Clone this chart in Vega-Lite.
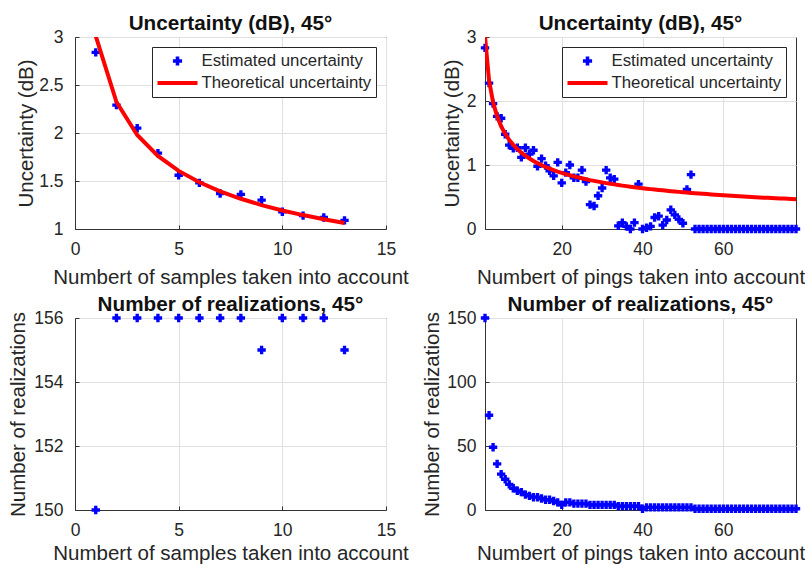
{
  "$schema": "https://vega.github.io/schema/vega-lite/v6.json",
  "background": "white",
  "padding": {"left": 8, "top": 12, "right": 5, "bottom": 0},
  "bounds": "flush",
  "columns": 2,
  "spacing": {"row": 89, "column": 99},
  "datasets": {
    "tl": [
      {"n": 1, "est": 2.84, "theo": 3.010},
      {"n": 2, "est": 2.29, "theo": 2.323},
      {"n": 3, "est": 2.05, "theo": 1.979},
      {"n": 4, "est": 1.79, "theo": 1.761},
      {"n": 5, "est": 1.56, "theo": 1.605},
      {"n": 6, "est": 1.48, "theo": 1.487},
      {"n": 7, "est": 1.37, "theo": 1.392},
      {"n": 8, "est": 1.36, "theo": 1.315},
      {"n": 9, "est": 1.30, "theo": 1.249},
      {"n": 10, "est": 1.18, "theo": 1.193},
      {"n": 11, "est": 1.14, "theo": 1.145},
      {"n": 12, "est": 1.12, "theo": 1.102},
      {"n": 13, "est": 1.09, "theo": 1.063}
    ],
    "tr": [
      {"n": 1, "est": 2.83, "theo": 3.010},
      {"n": 2, "est": 2.28, "theo": 2.323},
      {"n": 3, "est": 1.96, "theo": 1.979},
      {"n": 4, "est": 1.76, "theo": 1.761},
      {"n": 5, "est": 1.73, "theo": 1.605},
      {"n": 6, "est": 1.48, "theo": 1.487},
      {"n": 7, "est": 1.31, "theo": 1.392},
      {"n": 8, "est": 1.26, "theo": 1.315},
      {"n": 9, "est": 1.27, "theo": 1.249},
      {"n": 10, "est": 1.12, "theo": 1.193},
      {"n": 11, "est": 1.27, "theo": 1.145},
      {"n": 12, "est": 1.17, "theo": 1.102},
      {"n": 13, "est": 1.23, "theo": 1.063},
      {"n": 14, "est": 0.98, "theo": 1.029},
      {"n": 15, "est": 1.10, "theo": 0.998},
      {"n": 16, "est": 0.99, "theo": 0.969},
      {"n": 17, "est": 0.91, "theo": 0.943},
      {"n": 18, "est": 0.83, "theo": 0.919},
      {"n": 19, "est": 1.04, "theo": 0.897},
      {"n": 20, "est": 0.72, "theo": 0.877},
      {"n": 21, "est": 0.88, "theo": 0.857},
      {"n": 22, "est": 1.00, "theo": 0.839},
      {"n": 23, "est": 0.80, "theo": 0.823},
      {"n": 24, "est": 0.80, "theo": 0.807},
      {"n": 25, "est": 0.92, "theo": 0.792},
      {"n": 26, "est": 0.74, "theo": 0.778},
      {"n": 27, "est": 0.38, "theo": 0.764},
      {"n": 28, "est": 0.36, "theo": 0.752},
      {"n": 29, "est": 0.52, "theo": 0.740},
      {"n": 30, "est": 0.64, "theo": 0.728},
      {"n": 31, "est": 0.92, "theo": 0.717},
      {"n": 32, "est": 0.80, "theo": 0.707},
      {"n": 33, "est": 0.78, "theo": 0.697},
      {"n": 34, "est": 0.05, "theo": 0.687},
      {"n": 35, "est": 0.10, "theo": 0.678},
      {"n": 36, "est": 0.04, "theo": 0.670},
      {"n": 37, "est": 0.00, "theo": 0.661},
      {"n": 38, "est": 0.10, "theo": 0.653},
      {"n": 39, "est": 0.70, "theo": 0.645},
      {"n": 40, "est": 0.00, "theo": 0.638},
      {"n": 41, "est": 0.02, "theo": 0.630},
      {"n": 42, "est": 0.04, "theo": 0.623},
      {"n": 43, "est": 0.18, "theo": 0.616},
      {"n": 44, "est": 0.20, "theo": 0.610},
      {"n": 45, "est": 0.06, "theo": 0.604},
      {"n": 46, "est": 0.14, "theo": 0.597},
      {"n": 47, "est": 0.30, "theo": 0.591},
      {"n": 48, "est": 0.22, "theo": 0.586},
      {"n": 49, "est": 0.15, "theo": 0.580},
      {"n": 50, "est": 0.09, "theo": 0.575},
      {"n": 51, "est": 0.62, "theo": 0.569},
      {"n": 52, "est": 0.85, "theo": 0.564},
      {"n": 53, "est": 0, "theo": 0.559},
      {"n": 54, "est": 0, "theo": 0.554},
      {"n": 55, "est": 0, "theo": 0.549},
      {"n": 56, "est": 0, "theo": 0.545},
      {"n": 57, "est": 0, "theo": 0.540},
      {"n": 58, "est": 0, "theo": 0.536},
      {"n": 59, "est": 0, "theo": 0.532},
      {"n": 60, "est": 0, "theo": 0.527},
      {"n": 61, "est": 0, "theo": 0.523},
      {"n": 62, "est": 0, "theo": 0.519},
      {"n": 63, "est": 0, "theo": 0.515},
      {"n": 64, "est": 0, "theo": 0.512},
      {"n": 65, "est": 0, "theo": 0.508},
      {"n": 66, "est": 0, "theo": 0.504},
      {"n": 67, "est": 0, "theo": 0.501},
      {"n": 68, "est": 0, "theo": 0.497},
      {"n": 69, "est": 0, "theo": 0.494},
      {"n": 70, "est": 0, "theo": 0.490},
      {"n": 71, "est": 0, "theo": 0.487},
      {"n": 72, "est": 0, "theo": 0.484},
      {"n": 73, "est": 0, "theo": 0.481},
      {"n": 74, "est": 0, "theo": 0.478},
      {"n": 75, "est": 0, "theo": 0.475},
      {"n": 76, "est": 0, "theo": 0.472},
      {"n": 77, "est": 0, "theo": 0.469},
      {"n": 78, "est": 0, "theo": 0.466}
    ],
    "bl": [
      {"n": 1, "count": 150},
      {"n": 2, "count": 156},
      {"n": 3, "count": 156},
      {"n": 4, "count": 156},
      {"n": 5, "count": 156},
      {"n": 6, "count": 156},
      {"n": 7, "count": 156},
      {"n": 8, "count": 156},
      {"n": 9, "count": 155},
      {"n": 10, "count": 156},
      {"n": 11, "count": 156},
      {"n": 12, "count": 156},
      {"n": 13, "count": 155}
    ],
    "br": [
      {"n": 1, "count": 150}, {"n": 2, "count": 74}, {"n": 3, "count": 49}, {"n": 4, "count": 36},
      {"n": 5, "count": 28}, {"n": 6, "count": 24}, {"n": 7, "count": 20}, {"n": 8, "count": 17},
      {"n": 9, "count": 15}, {"n": 10, "count": 14}, {"n": 11, "count": 12}, {"n": 12, "count": 11},
      {"n": 13, "count": 10}, {"n": 14, "count": 10}, {"n": 15, "count": 9}, {"n": 16, "count": 8},
      {"n": 17, "count": 8}, {"n": 18, "count": 7}, {"n": 19, "count": 6}, {"n": 20, "count": 4},
      {"n": 21, "count": 6}, {"n": 22, "count": 6}, {"n": 23, "count": 5}, {"n": 24, "count": 5},
      {"n": 25, "count": 5}, {"n": 26, "count": 5}, {"n": 27, "count": 4}, {"n": 28, "count": 4},
      {"n": 29, "count": 4}, {"n": 30, "count": 4}, {"n": 31, "count": 4}, {"n": 32, "count": 4},
      {"n": 33, "count": 4}, {"n": 34, "count": 3}, {"n": 35, "count": 3}, {"n": 36, "count": 3},
      {"n": 37, "count": 3}, {"n": 38, "count": 3}, {"n": 39, "count": 3}, {"n": 40, "count": 1},
      {"n": 41, "count": 2}, {"n": 42, "count": 2}, {"n": 43, "count": 2}, {"n": 44, "count": 2},
      {"n": 45, "count": 2}, {"n": 46, "count": 2}, {"n": 47, "count": 2}, {"n": 48, "count": 2},
      {"n": 49, "count": 2}, {"n": 50, "count": 2}, {"n": 51, "count": 2}, {"n": 52, "count": 2},
      {"n": 53, "count": 1}, {"n": 54, "count": 1}, {"n": 55, "count": 1}, {"n": 56, "count": 1},
      {"n": 57, "count": 1}, {"n": 58, "count": 1}, {"n": 59, "count": 1}, {"n": 60, "count": 1},
      {"n": 61, "count": 1}, {"n": 62, "count": 1}, {"n": 63, "count": 1}, {"n": 64, "count": 1},
      {"n": 65, "count": 1}, {"n": 66, "count": 1}, {"n": 67, "count": 1}, {"n": 68, "count": 1},
      {"n": 69, "count": 1}, {"n": 70, "count": 1}, {"n": 71, "count": 1}, {"n": 72, "count": 1},
      {"n": 73, "count": 1}, {"n": 74, "count": 1}, {"n": 75, "count": 1}, {"n": 76, "count": 1},
      {"n": 77, "count": 1}, {"n": 78, "count": 1}
    ]
  },
  "resolve": {"scale": {"color": "independent", "shape": "independent"}, "legend": {"color": "independent", "shape": "independent"}},
  "concat": [
    {
      "width": 311, "height": 192,
      "title": {"text": "Uncertainty (dB), 45°"},
      "data": {"name": "tl"},
      "layer": [
        {
          "mark": {"type": "point", "shape": "cross", "filled": true, "size": 70, "strokeWidth": 1.5, "opacity": 1, "color": "#0000ff"},
          "encoding": {
            "x": {"field": "n", "type": "quantitative", "scale": {"domain": [0, 15], "nice": false}, "axis": {"values": [0, 5, 10, 15], "title": "Numbert of samples taken into account", "titlePadding": 9}},
            "y": {"field": "est", "type": "quantitative", "scale": {"domain": [1, 3], "nice": false, "zero": false}, "axis": {"values": [1, 1.5, 2, 2.5, 3], "format": "~g", "title": "Uncertainty (dB)", "titlePadding": 2}}
          }
        },
        {
          "mark": {"type": "line", "strokeWidth": 4, "clip": true, "color": "#ff0000"},
          "encoding": {
            "x": {"field": "n", "type": "quantitative"},
            "y": {"field": "theo", "type": "quantitative"}
          }
        },
        {
          "transform": [{"filter": "false"}],
          "mark": {"type": "point", "filled": true, "opacity": 1},
          "encoding": {
            "x": {"field": "n", "type": "quantitative"},
            "y": {"field": "est", "type": "quantitative"},
            "color": {"field": "series", "type": "nominal",
              "scale": {"domain": ["Estimated uncertainty", "Theoretical uncertainty"], "range": ["#0000ff", "#ff0000"]},
              "legend": {"title": null, "orient": "top-right", "offset": 10, "padding": 4.5, "strokeColor": "#262626", "fillColor": "white",
                "symbolSize": 1600, "clipHeight": 19, "rowPadding": 3, "labelOffset": 3, "labelFontSize": 16.8, "labelLimit": 0}},
            "shape": {"field": "series", "type": "nominal",
              "scale": {"domain": ["Estimated uncertainty", "Theoretical uncertainty"], "range": ["M-0.23,-0.09L-0.09,-0.09L-0.09,-0.23L0.09,-0.23L0.09,-0.09L0.23,-0.09L0.23,0.09L0.09,0.09L0.09,0.23L-0.09,0.23L-0.09,0.09L-0.23,0.09Z", "M-1,-0.1L1,-0.1L1,0.1L-1,0.1Z"]},
              "legend": {"title": null, "orient": "top-right", "offset": 10, "padding": 4.5, "strokeColor": "#262626", "fillColor": "white",
                "symbolSize": 1600, "clipHeight": 19, "rowPadding": 3, "labelOffset": 3, "labelFontSize": 16.8, "labelLimit": 0}}
          }
        }
      ]
    },
    {
      "width": 311, "height": 192,
      "title": {"text": "Uncertainty (dB), 45°"},
      "data": {"name": "tr"},
      "layer": [
        {
          "mark": {"type": "point", "shape": "cross", "filled": true, "size": 70, "strokeWidth": 1.5, "opacity": 1, "color": "#0000ff"},
          "encoding": {
            "x": {"field": "n", "type": "quantitative", "scale": {"domain": [1, 78], "nice": false, "zero": false}, "axis": {"values": [20, 40, 60], "title": "Numbert of pings taken into account", "titlePadding": 9}},
            "y": {"field": "est", "type": "quantitative", "scale": {"domain": [0, 3], "nice": false}, "axis": {"values": [0, 1, 2, 3], "format": "~g", "title": "Uncertainty (dB)", "titlePadding": 4, "labelPadding": 13}}
          }
        },
        {
          "mark": {"type": "line", "strokeWidth": 4, "clip": true, "color": "#ff0000"},
          "encoding": {
            "x": {"field": "n", "type": "quantitative"},
            "y": {"field": "theo", "type": "quantitative"}
          }
        },
        {
          "transform": [{"filter": "false"}],
          "mark": {"type": "point", "filled": true, "opacity": 1},
          "encoding": {
            "x": {"field": "n", "type": "quantitative"},
            "y": {"field": "est", "type": "quantitative"},
            "color": {"field": "series", "type": "nominal",
              "scale": {"domain": ["Estimated uncertainty", "Theoretical uncertainty"], "range": ["#0000ff", "#ff0000"]},
              "legend": {"title": null, "orient": "top-right", "offset": 10, "padding": 4.5, "strokeColor": "#262626", "fillColor": "white",
                "symbolSize": 1600, "clipHeight": 19, "rowPadding": 3, "labelOffset": 3, "labelFontSize": 16.8, "labelLimit": 0}},
            "shape": {"field": "series", "type": "nominal",
              "scale": {"domain": ["Estimated uncertainty", "Theoretical uncertainty"], "range": ["M-0.23,-0.09L-0.09,-0.09L-0.09,-0.23L0.09,-0.23L0.09,-0.09L0.23,-0.09L0.23,0.09L0.09,0.09L0.09,0.23L-0.09,0.23L-0.09,0.09L-0.23,0.09Z", "M-1,-0.1L1,-0.1L1,0.1L-1,0.1Z"]},
              "legend": {"title": null, "orient": "top-right", "offset": 10, "padding": 4.5, "strokeColor": "#262626", "fillColor": "white",
                "symbolSize": 1600, "clipHeight": 19, "rowPadding": 3, "labelOffset": 3, "labelFontSize": 16.8, "labelLimit": 0}}
          }
        }
      ]
    },
    {
      "width": 311, "height": 192,
      "title": {"text": "Number of realizations, 45°"},
      "data": {"name": "bl"},
      "mark": {"type": "point", "shape": "cross", "filled": true, "size": 70, "strokeWidth": 1.5, "opacity": 1, "color": "#0000ff"},
      "encoding": {
        "x": {"field": "n", "type": "quantitative", "scale": {"domain": [0, 15], "nice": false}, "axis": {"values": [0, 5, 10, 15], "title": "Numbert of samples taken into account", "titlePadding": 4}},
        "y": {"field": "count", "type": "quantitative", "scale": {"domain": [150, 156], "nice": false, "zero": false}, "axis": {"values": [150, 152, 154, 156], "title": "Number of realizations", "titlePadding": 5}}
      }
    },
    {
      "width": 311, "height": 192,
      "title": {"text": "Number of realizations, 45°"},
      "data": {"name": "br"},
      "mark": {"type": "point", "shape": "cross", "filled": true, "size": 70, "strokeWidth": 1.5, "opacity": 1, "color": "#0000ff"},
      "encoding": {
        "x": {"field": "n", "type": "quantitative", "scale": {"domain": [1, 78], "nice": false, "zero": false}, "axis": {"values": [20, 40, 60], "title": "Numbert of pings taken into account", "titlePadding": 4}},
        "y": {"field": "count", "type": "quantitative", "scale": {"domain": [0, 150], "nice": false}, "axis": {"values": [0, 50, 100, 150], "title": "Number of realizations", "titlePadding": 4, "labelPadding": 13}}
      }
    }
  ],
  "config": {
    "font": "Liberation Sans",
    "view": {"stroke": "#333333", "strokeWidth": 1},
    "title": {"fontSize": 20.7, "fontWeight": "bold", "color": "#111111", "font": "Liberation Sans", "frame": "group", "anchor": "middle", "offset": -7, "baseline": "alphabetic"},
    "axis": {
      "labelFont": "Liberation Sans", "titleFont": "Liberation Sans",
      "labelFontSize": 17.5, "titleFontSize": 20.5, "titleFontWeight": "normal",
      "labelColor": "#262626", "titleColor": "#262626",
      "domainColor": "#333333", "tickColor": "#333333", "tickSize": -4,
      "gridColor": "#e0e0e0", "grid": true,
      "labelFlush": false, "labelOverlap": false
    },
    "axisX": {"labelPadding": 15.5},
    "axisY": {"labelPadding": 16},
    "legend": {"labelFont": "Liberation Sans", "labelColor": "#262626"}
  }
}
